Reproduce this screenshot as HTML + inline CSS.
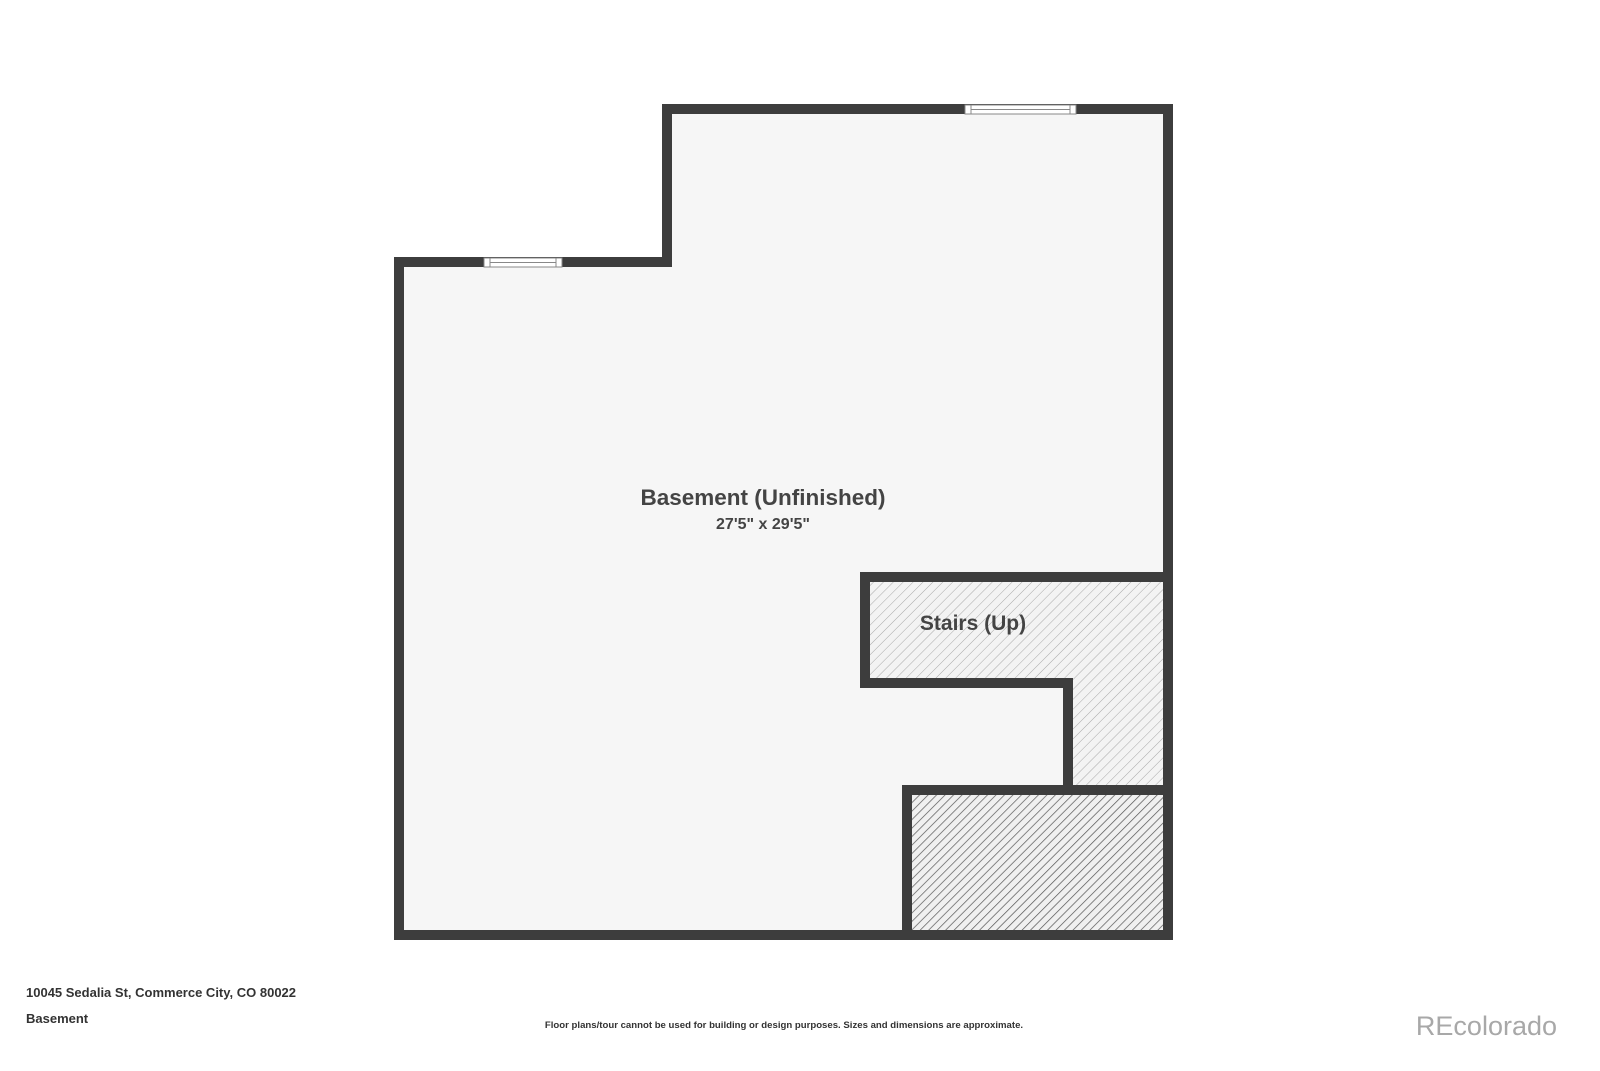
<!DOCTYPE html>
<html><head><meta charset="utf-8"><style>
html,body{margin:0;padding:0;background:#fff;}
body{width:1600px;height:1066px;overflow:hidden;font-family:"Liberation Sans",sans-serif;}
</style></head><body>
<svg width="1600" height="1066" viewBox="0 0 1600 1066" xmlns="http://www.w3.org/2000/svg">
<defs>
<pattern id="h1" patternUnits="userSpaceOnUse" width="7" height="7" patternTransform="rotate(45)">
<rect width="7" height="7" fill="#f3f3f3"/><line x1="0" y1="0" x2="0" y2="7" stroke="#a8a8a8" stroke-width="1"/></pattern>
<pattern id="h2" patternUnits="userSpaceOnUse" width="6" height="6" patternTransform="rotate(45)">
<rect width="6" height="6" fill="#f0f0f0"/><line x1="0" y1="0" x2="0" y2="6" stroke="#555" stroke-width="1.4"/></pattern>
</defs>
<polygon points="399,262 667,262 667,109 1168,109 1168,935 399,935" fill="#f6f6f6"/>
<polygon points="865,582 1163,582 1163,785 1073,785 1073,683 865,683" fill="url(#h1)"/>
<rect x="912" y="795" width="251" height="135" fill="url(#h2)"/>
<g fill="none" stroke="#3d3d3d" stroke-width="10" stroke-linejoin="miter">
<polygon points="399,262 667,262 667,109 1168,109 1168,935 399,935"/>
<polyline points="860,577 1168,577"/>
<polyline points="865,577 865,683 1068,683 1068,790"/>
<polyline points="907,935 907,790 1168,790"/>
</g>
<g>
<rect x="965" y="105" width="111" height="9" fill="#fff" stroke="#888" stroke-width="1"/>
<line x1="971" y1="105" x2="971" y2="114" stroke="#888"/><line x1="1070" y1="105" x2="1070" y2="114" stroke="#888"/>
<line x1="971" y1="109.5" x2="1070" y2="109.5" stroke="#888"/>
<rect x="484" y="258" width="78" height="9" fill="#fff" stroke="#888" stroke-width="1"/>
<line x1="490" y1="258" x2="490" y2="267" stroke="#888"/><line x1="556" y1="258" x2="556" y2="267" stroke="#888"/>
<line x1="490" y1="262.5" x2="556" y2="262.5" stroke="#888"/>
</g>
<g font-family="Liberation Sans, sans-serif" font-weight="bold" fill="#444">
<text x="763" y="505" font-size="22.5" text-anchor="middle">Basement (Unfinished)</text>
<text x="763" y="529" font-size="16" text-anchor="middle">27'5" x 29'5"</text>
<text x="973" y="630" font-size="21" text-anchor="middle">Stairs (Up)</text>
<text x="26" y="997" font-size="13" fill="#333">10045 Sedalia St, Commerce City, CO 80022</text>
<text x="26" y="1023" font-size="13" fill="#333">Basement</text>
<text x="784" y="1028" font-size="9.6" text-anchor="middle" fill="#333">Floor plans/tour cannot be used for building or design purposes. Sizes and dimensions are approximate.</text>
</g>
<text x="1557" y="1035" font-size="27" text-anchor="end" fill="#a8a8a8" font-family="Liberation Sans, sans-serif">REcolorado</text>
</svg>
</body></html>
